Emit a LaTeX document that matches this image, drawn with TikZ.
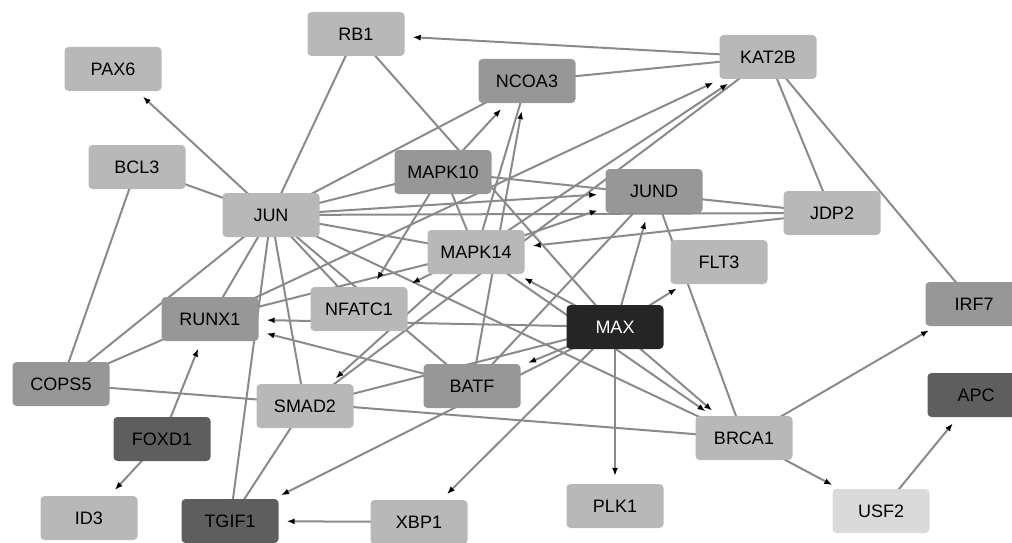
\documentclass[tikz,border=0pt]{standalone}
\usepackage{fontspec}
\setmainfont{Liberation Sans}
\usetikzlibrary{arrows.meta}
\pgfdeclarelayer{background}
\pgfsetlayers{background,main}
\definecolor{lt}{HTML}{B8B8B8}
\definecolor{md}{HTML}{979797}
\definecolor{dk}{HTML}{5E5E5E}
\definecolor{blk}{HTML}{252525}
\definecolor{vlt}{HTML}{DADADA}
\definecolor{edgec}{HTML}{8A8A8A}
\tikzset{
  gene/.style={rectangle, rounded corners=4pt, minimum width=97pt, minimum height=44pt, inner sep=0pt, font=\fontsize{18}{20}\selectfont, text=black},
  glt/.style={gene, fill=lt},
  gmd/.style={gene, fill=md},
  gdk/.style={gene, fill=dk},
  gvl/.style={gene, fill=vlt},
  gblk/.style={gene, fill=blk, text=white},
  ln/.style={draw=edgec, line width=2pt},
  ar/.style={draw=edgec, line width=2pt, -{Latex[black,length=8pt,width=6pt]}, shorten >=8pt},
}
\begin{document}
\begin{tikzpicture}[x=1pt,y=-1pt]
\useasboundingbox (0,0) rectangle (1012,543);
\clip (0,0) rectangle (1012,543);
\node[glt] (PAX6) at (113,69) {PAX6};
\node[glt] (BCL3) at (137,167) {BCL3};
\node[glt] (JUN) at (271,215) {JUN};
\node[glt] (RB1) at (356,34) {RB1};
\node[gmd] (NCOA3) at (527,81) {NCOA3};
\node[gmd] (MAPK10) at (443,172) {MAPK10};
\node[gmd] (JUND) at (654,191) {JUND};
\node[glt] (MAPK14) at (476,252) {MAPK14};
\node[glt] (KAT2B) at (768,57) {KAT2B};
\node[glt] (JDP2) at (832,213) {JDP2};
\node[glt] (FLT3) at (719,262) {FLT3};
\node[gblk] (MAX) at (615,327) {MAX};
\node[glt] (NFATC1) at (359,309) {NFATC1};
\node[gmd] (RUNX1) at (210,319) {RUNX1};
\node[glt] (SMAD2) at (305,406) {SMAD2};
\node[gmd] (BATF) at (472,386) {BATF};
\node[gmd] (COPS5) at (61,384) {COPS5};
\node[gdk] (FOXD1) at (162,439) {FOXD1};
\node[glt] (ID3) at (89,518) {ID3};
\node[gdk] (TGIF1) at (230,521) {TGIF1};
\node[glt] (XBP1) at (419,522) {XBP1};
\node[glt] (PLK1) at (615,506) {PLK1};
\node[glt] (BRCA1) at (744,438) {BRCA1};
\node[gmd] (IRF7) at (974,304) {IRF7};
\node[gdk] (APC) at (976,395) {APC};
\node[gvl] (USF2) at (881,511) {USF2};
\begin{pgfonlayer}{background}
% plain links
\foreach \a/\b in {BCL3/JUN, BCL3/COPS5, RB1/JUN, RB1/MAX, NCOA3/KAT2B, KAT2B/JDP2, KAT2B/IRF7,
  JUN/NCOA3, JUN/MAPK10, JUN/JDP2, JUN/MAPK14, JUN/NFATC1, JUN/BATF, JUN/BRCA1, JUN/RUNX1,
  JUN/COPS5, JUN/TGIF1, JUN/SMAD2, MAPK10/MAPK14, MAPK10/JDP2, MAPK14/NCOA3, KAT2B/SMAD2,
  JUND/BRCA1, BATF/JUND, SMAD2/TGIF1, COPS5/RUNX1, COPS5/BRCA1, SMAD2/MAX, RUNX1/MAPK14}
  \draw[ln] (\a.center) -- (\b.center);
% directed links
\foreach \a/\b in {JUN/PAX6, KAT2B/RB1, MAPK10/NCOA3, MAPK10/NFATC1, BATF/NCOA3, MAPK14/KAT2B,
  RUNX1/KAT2B, MAPK14/JUND, JUN/JUND, JDP2/MAPK14, MAX/MAPK14, MAPK14/BRCA1, MAX/JUND, MAX/FLT3,
  MAX/PLK1, MAX/XBP1, MAX/BATF, MAX/TGIF1, MAX/RUNX1, MAX/BRCA1, BATF/RUNX1, MAPK14/SMAD2,
  MAPK14/NFATC1, FOXD1/RUNX1, FOXD1/ID3, XBP1/TGIF1, BRCA1/IRF7, BRCA1/USF2, USF2/APC}
  \draw[ar] (\a.center) -- (\b);
\end{pgfonlayer}
\end{tikzpicture}
\end{document}
